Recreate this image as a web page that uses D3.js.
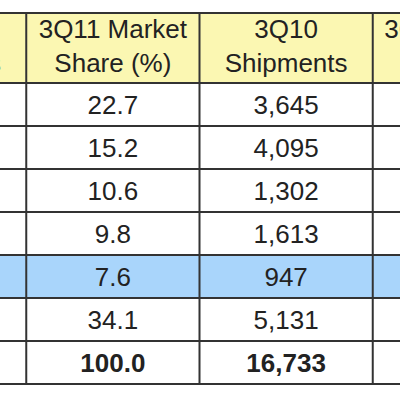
<!DOCTYPE html>
<html><head><meta charset="utf-8">
<script src="https://cdn.jsdelivr.net/npm/d3@7"></script>
<style>body{margin:0;background:#fff}svg{display:block}</style>
</head><body><svg id="c" width="400" height="400"></svg>
<script>
const headers = [["Vendor","Shipments"],["3Q11 Market","Share (%)"],["3Q10","Shipments"],["3Q10 Market","Share (%)"]];
const vendors = ["Samsung","Nokia","HTC","ZTE","Apple","Others","Total"];
const share3Q11 = ["22.7","15.2","10.6","9.8","7.6","34.1","100.0"];
const ship3Q10 = ["3,645","4,095","1,302","1,613","947","5,131","16,733"];
const share3Q10 = ["","","","","","",""];
const highlightRow = 4, boldRow = 6;

const svg = d3.select("#c");
const x = d3.scaleLinear().domain([0,4]).range([-147,546]);
const y = d3.scaleLinear().domain([0,7]).range([83,384]);
const headTop = 13;
const cols = [vendors, share3Q11, ship3Q10, share3Q10];
const font = "'Liberation Sans', Arial, sans-serif";

svg.append("rect").attr("x",x(0)).attr("y",headTop).attr("width",x(4)-x(0)).attr("height",y(0)-headTop).attr("fill","#fbf7b2");
svg.append("rect").attr("x",x(0)).attr("y",y(highlightRow)).attr("width",x(4)-x(0)).attr("height",y(1)-y(0)).attr("fill","#a9d5fb");
headers.forEach((h,i)=>{
  h.forEach((t,j)=>svg.append("text").attr("x",(x(i)+x(i+1))/2).attr("y",headTop+25+j*34)
    .attr("text-anchor","middle").attr("font-family",font).attr("font-size",26).attr("fill","#222").text(t));
});
cols.forEach((col,i)=>col.forEach((v,r)=>{
  svg.append("text").attr("x",(x(i)+x(i+1))/2).attr("y",(y(r)+y(r+1))/2+9)
    .attr("text-anchor","middle").attr("font-family",font).attr("font-size",26)
    .attr("font-weight",r===boldRow?"bold":"normal").attr("fill","#222").text(v);
}));
const hl=[headTop].concat(d3.range(0,8).map(y));
hl.forEach(v=>svg.append("line").attr("x1",0).attr("x2",400).attr("y1",v).attr("y2",v).attr("stroke","#333").attr("stroke-width",2));
d3.range(0,5).map(x).forEach(v=>svg.append("line").attr("x1",v).attr("x2",v).attr("y1",headTop).attr("y2",y(7)).attr("stroke","#333").attr("stroke-width",2));
</script></body></html>
